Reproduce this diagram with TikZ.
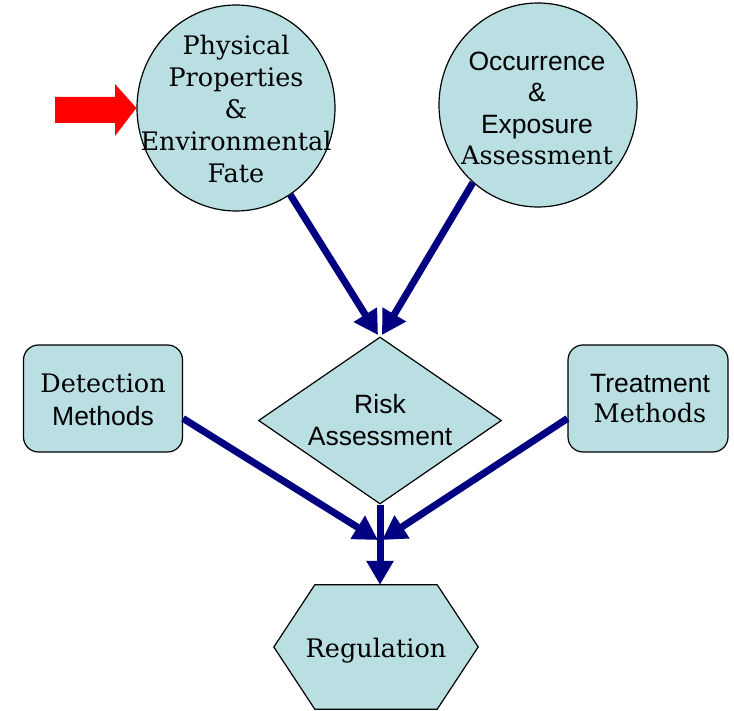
\documentclass[tikz,border=0pt]{standalone}
\usepackage{fontspec}
\setmainfont{DejaVu Serif}
\newfontfamily\sanfont{Liberation Sans}
\usetikzlibrary{shapes.geometric,arrows.meta,calc}
\definecolor{fillblue}{HTML}{B9DFE3}
\definecolor{navyarrow}{HTML}{000080}
\newcommand\SA{\fontsize{26.5}{32}\sanfont}
\begin{document}
\begin{tikzpicture}[x=1pt,y=-1pt,
  shapebox/.style={draw=black,line width=1.2pt,fill=fillblue},
  lbl/.style={align=center,inner sep=0pt,text=black},
  flow/.style={draw=navyarrow,line width=7pt,-{Triangle[width=26pt,length=24pt]}},
]
\useasboundingbox (0,0) rectangle (734,711);
% shapes
\node[shapebox,ellipse,minimum width=198pt,minimum height=206pt,inner sep=0pt] (phys) at (236,108) {};
\node[shapebox,ellipse,minimum width=198pt,minimum height=204pt,inner sep=0pt] (occ) at (538,105) {};
\node[shapebox,diamond,minimum width=243pt,minimum height=167pt,inner sep=0pt] (risk) at (380,420.5) {};
\node[shapebox,rounded corners=15pt,minimum width=159pt,minimum height=107pt,inner sep=0pt] (det) at (103,398.5) {};
\node[shapebox,rounded corners=15pt,minimum width=160pt,minimum height=107pt,inner sep=0pt] (treat) at (648,398.5) {};
\node[minimum width=204pt,minimum height=124pt,inner sep=0pt] (reg) at (376,647) {};
\draw[shapebox] (reg.west) -- ([xshift=41pt]reg.north west) -- ([xshift=-41pt]reg.north east)
  -- (reg.east) -- ([xshift=-41pt]reg.south east) -- ([xshift=41pt]reg.south west) -- cycle;
% red block arrow
\fill[red] (55,97) -- (115,97) -- (115,84) -- (phys.west) -- (115,136) -- (115,123) -- (55,123) -- cycle;
% connectors
\coordinate (t1) at (378,335);
\coordinate (t2) at (382,335);
\coordinate (j1) at (378,540);
\coordinate (j2) at (382,540);
\draw[flow] (phys) -- (t1);
\draw[flow] (occ.230) -- (t2);
\draw[flow] ([yshift=-20pt]det.east) -- (j1);
\draw[flow] ([yshift=-20pt]treat.west) -- (j2);
\draw[flow] (risk.south) -- (risk.south |- reg.north);
% labels
\node[lbl,font=\fontsize{25.5}{32}\selectfont] (physT) at (236,108.5)
  {Physical\\Properties\\\&\\Environmental\\Fate};
\node[lbl,font=\fontsize{25.5}{31.5}\selectfont] (occT) at (537,108.2)
  {{\SA Occurrence}\\{\SA\&}\\{\SA Exposure}\\Assessment};
\node[lbl,font=\fontsize{25.5}{32.7}\selectfont] (detT) at (103,400)
  {Detection\\{\SA Methods}};
\node[lbl,font=\fontsize{25.5}{30}\selectfont] (treatT) at (650,398.5)
  {{\SA Treatment}\\Methods};
\node[lbl,font=\fontsize{25.5}{32.7}\selectfont] (riskT) at (380,420)
  {{\SA Risk}\\{\SA Assessment}};
\node[lbl,font=\fontsize{25.5}{32}\selectfont] (regT) at (376,650.5) {Regulation};
\end{tikzpicture}
\end{document}
